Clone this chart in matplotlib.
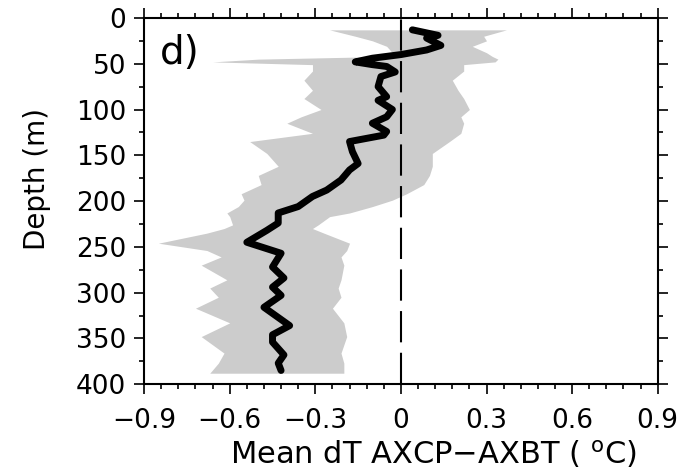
import matplotlib.pyplot as plt
from matplotlib.ticker import MultipleLocator

plt.rcParams['font.family'] = ['DejaVu Sans']

# gray band (spread of dT) vs depth
band_depth = [13, 20, 25, 31, 38, 42, 45, 48, 51, 58, 68, 79, 88, 100, 108, 115,
              126, 135, 148, 162, 172, 182, 192, 199, 206, 213, 217, 226, 230, 235,
              246, 254, 261, 270, 286, 295, 305, 317, 333, 348, 366, 377, 388]
band_low = [-0.25, -0.16, -0.10, -0.05, -0.03, -0.04, -0.50, -0.66, -0.31, -0.31,
            -0.34, -0.31, -0.34, -0.28, -0.35, -0.40, -0.31, -0.53, -0.47, -0.43,
            -0.50, -0.49, -0.56, -0.55, -0.57, -0.61, -0.60, -0.59, -0.62, -0.68,
            -0.85, -0.68, -0.63, -0.70, -0.61, -0.67, -0.64, -0.72, -0.60, -0.70,
            -0.62, -0.64, -0.67]
band_high = [0.37, 0.29, 0.30, 0.25, 0.30, 0.32, 0.34, 0.33, 0.22, 0.22, 0.18, 0.20,
             0.22, 0.24, 0.21, 0.22, 0.21, 0.17, 0.11, 0.11, 0.10, 0.08, 0.02, -0.03,
             -0.10, -0.18, -0.25, -0.29, -0.31, -0.27, -0.18, -0.19, -0.21, -0.20,
             -0.21, -0.22, -0.21, -0.24, -0.20, -0.19, -0.21, -0.20, -0.20]

# mean dT profile
mean_depth = [13, 19, 22, 30, 35, 40, 44, 48, 51, 53, 59, 64, 75, 86, 90, 100, 108,
              115, 124, 128, 135, 146, 159, 166, 177, 188, 195, 206, 213, 224, 232,
              245, 250, 257, 272, 284, 294, 303, 316, 336, 346, 354, 368, 377, 385]
mean_dt = [0.04, 0.13, 0.09, 0.14, 0.09, 0.00, -0.10, -0.16, -0.10, -0.05, -0.02,
           -0.07, -0.08, -0.05, -0.08, -0.03, -0.05, -0.10, -0.05, -0.06, -0.18,
           -0.17, -0.15, -0.18, -0.21, -0.26, -0.31, -0.36, -0.43, -0.43, -0.47,
           -0.54, -0.49, -0.42, -0.45, -0.41, -0.45, -0.42, -0.48, -0.39, -0.45,
           -0.45, -0.41, -0.43, -0.42]

x_ticks = [-0.9, -0.6, -0.3, 0, 0.3, 0.6, 0.9]
x_ticklabels = ['\u22120.9', '\u22120.6', '\u22120.3', '0', '0.3', '0.6', '0.9']

fig = plt.figure(figsize=(6.83, 4.72), dpi=100)
ax = fig.add_axes([0.211, 0.186, 0.752, 0.776])

ax.fill_betweenx(band_depth, band_low, band_high, color='#cccccc', lw=0, zorder=1)
ax.axvline(0, color='black', lw=1.5, dashes=(15, 5), zorder=2)
ax.plot(mean_dt, mean_depth, color='black', lw=5, solid_joinstyle='round',
        solid_capstyle='round', zorder=3)

ax.set_xlim(-0.9, 0.9)
ax.set_ylim(400, 0)
ax.set_xticks(x_ticks)
ax.set_xticklabels(x_ticklabels)
ax.xaxis.set_minor_locator(MultipleLocator(0.06))
ax.yaxis.set_major_locator(MultipleLocator(50))
ax.yaxis.set_minor_locator(MultipleLocator(25))

ax.tick_params(which='both', direction='out', top=True, right=True,
               width=1.2, labelsize=19)
ax.tick_params(which='major', length=7)
ax.tick_params(which='minor', length=3.5)
ax.tick_params(axis='x', which='major', pad=10)
ax.tick_params(axis='y', which='major', pad=6)
for s in ax.spines.values():
    s.set_linewidth(1.5)

ax.set_xlabel('Mean dT AXCP\u2212AXBT ( $\\mathregular{^{o}}$C)', fontsize=22)
ax.xaxis.set_label_coords(0.564, -0.148)
ax.set_ylabel('Depth (m)', fontsize=20)
ax.yaxis.set_label_coords(-0.181, 0.56)
ax.text(0.03, 0.955, 'd)', transform=ax.transAxes, fontsize=28, va='top', ha='left')

fig.savefig('out.png', dpi=100)
